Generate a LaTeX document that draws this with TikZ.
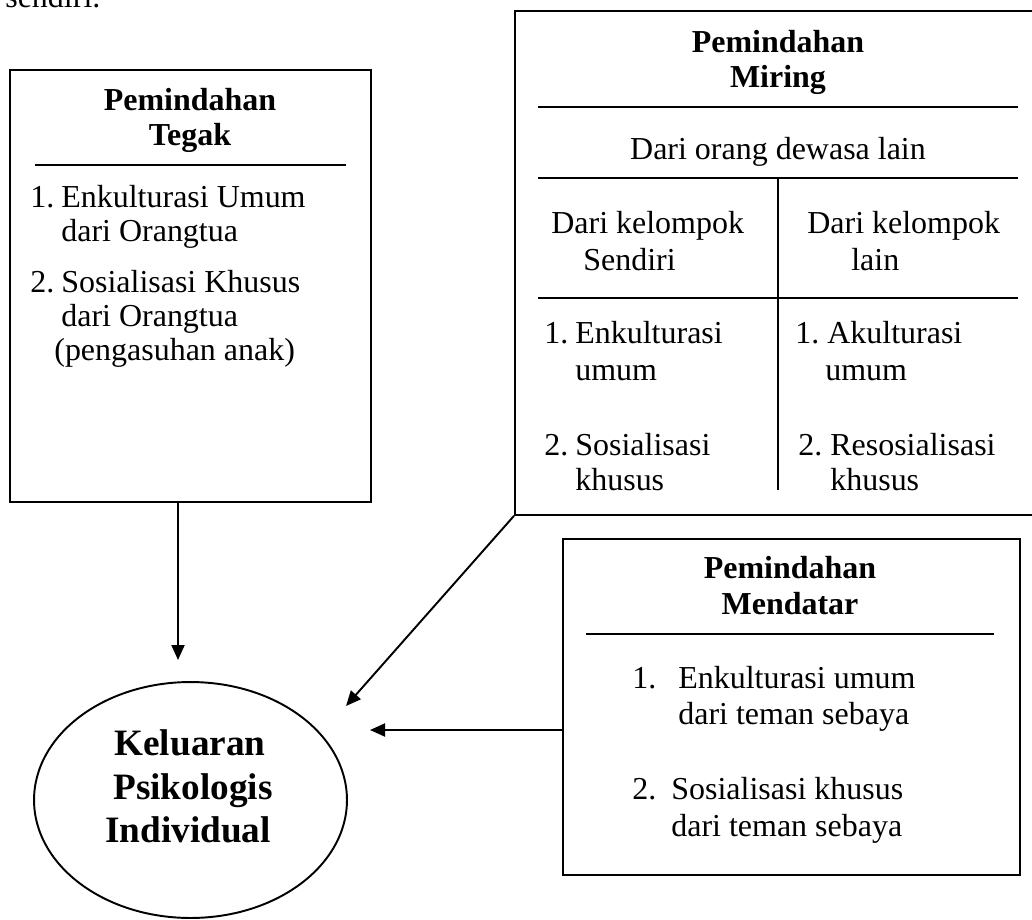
\documentclass[tikz,border=0pt]{standalone}
\usepackage{fontspec}
\setmainfont{Liberation Serif}
\usetikzlibrary{arrows.meta,shapes.geometric}
\newcommand\dgbody{\fontsize{18.2}{20}\selectfont}
\newcommand\dgtitle{\fontsize{18.2}{20}\selectfont\bfseries}
\newcommand\dgbig{\fontsize{21.2}{24}\selectfont\bfseries}
\tikzset{
  box/.style={draw, line width=1.1pt, rectangle, inner sep=0pt, anchor=north west},
  oval/.style={draw, line width=1.1pt, ellipse, inner sep=0pt},
  txt/.style={anchor=base west, inner sep=0pt, font=\dgbody},
  ctxt/.style={anchor=base, inner sep=0pt, font=\dgbody},
  ttl/.style={anchor=base, inner sep=0pt, font=\dgtitle},
  big/.style={anchor=base, inner sep=0pt, font=\dgbig},
  rule/.style={line width=1.1pt},
  arr/.style={line width=1.1pt, -{Triangle[length=0.3cm,width=0.26cm]}}
}
\begin{document}
\begin{tikzpicture}[x=0.02cm,y=-0.02cm]
\useasboundingbox (0,0) rectangle (1032,920);
% partial text at top
\node[txt] (sendiri) at (5,7) {sendiri.};
% boxes
\node[box, minimum width=7.22cm, minimum height=8.64cm] (tegak) at (9,69) {};
\node[box, minimum width=10.62cm, minimum height=10.08cm] (miring) at (514,10) {};
\node[box, minimum width=9.14cm, minimum height=6.72cm] (mendatar) at (562,538) {};
\node[oval, minimum width=6.26cm, minimum height=4.72cm] (out) at (190.5,800) {};
% Tegak
\node[ttl] (tg1) at (190,110) {Pemindahan};
\node[ttl] (tg2) at (190,145) {Tegak};
\draw[rule] (35,165) -- (346,165);
\node[txt] (tgn1) at (30,207) {1.};
\node[txt] (tga1) at (61,207) {Enkulturasi Umum};
\node[txt] (tga2) at (61,241) {dari Orangtua};
\node[txt] (tgn2) at (30,292) {2.};
\node[txt] (tgb1) at (61,292) {Sosialisasi Khusus};
\node[txt] (tgb2) at (61,326) {dari Orangtua};
\node[txt] (tgb3) at (54,360) {(pengasuhan anak)};
% Miring
\node[ttl] (mr1) at (778,52) {Pemindahan};
\node[ttl] (mr2) at (778,87) {Miring};
\draw[rule] (538,107) -- (1018,107);
\node[ctxt] (mr3) at (778,159) {Dari orang dewasa lain};
\draw[rule] (538,178) -- (1018,178);
\draw[rule] (778,178) -- (778,490);
\node[txt] (ml1) at (551,233) {Dari kelompok};
\node[txt] (ml2) at (583,270) {Sendiri};
\node[txt] (mrr1) at (807,233) {Dari kelompok};
\node[txt] (mrr2) at (851,270) {lain};
\draw[rule] (538,298) -- (1018,298);
\node[txt] (mln1) at (544,343) {1.};
\node[txt] (mla1) at (575,343) {Enkulturasi};
\node[txt] (mla2) at (575,380) {umum};
\node[txt] (mln2) at (544,455) {2.};
\node[txt] (mlb1) at (575,455) {Sosialisasi};
\node[txt] (mlb2) at (575,490) {khusus};
\node[txt] (mrn1) at (795,343) {1.};
\node[txt] (mra1) at (827,343) {Akulturasi};
\node[txt] (mra2) at (825,380) {umum};
\node[txt] (mrn2) at (798,455) {2.};
\node[txt] (mrb1) at (830,455) {Resosialisasi};
\node[txt] (mrb2) at (830,490) {khusus};
% Mendatar
\node[ttl] (md1) at (790,578) {Pemindahan};
\node[ttl] (md2) at (790,614) {Mendatar};
\draw[rule] (586,634) -- (994,634);
\node[txt] (mdn1) at (632,688) {1.};
\node[txt] (mda1) at (678,688) {Enkulturasi umum};
\node[txt] (mda2) at (678,724) {dari teman sebaya};
\node[txt] (mdn2) at (632,799) {2.};
\node[txt] (mdb1) at (671,799) {Sosialisasi khusus};
\node[txt] (mdb2) at (671,836) {dari teman sebaya};
% Output
\node[big] (o1) at (190,755) {Keluaran};
\node[big] (o2) at (193,799) {Psikologis};
\node[big] (o3) at (188,842) {Individual};
% connectors
\coordinate (t1) at (178,660);
\coordinate (t2) at (346,706);
\coordinate (t3) at (370,730);
\draw[arr] (t1 |- tegak.south) -- (t1);
\draw[arr] (miring.south west) -- (t2);
\draw[arr] (mendatar.west |- t3) -- (t3);
\end{tikzpicture}
\end{document}
